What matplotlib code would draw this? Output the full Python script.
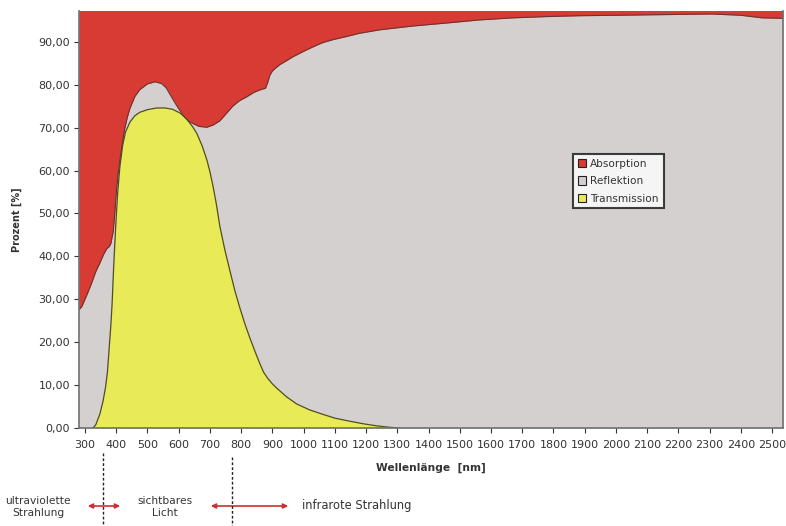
import matplotlib
matplotlib.use("Agg")
import matplotlib.pyplot as plt
from matplotlib.patches import Patch
from matplotlib.lines import Line2D
from matplotlib.ticker import FuncFormatter

# obere Grenze von Transmission + Reflektion (darüber: Absorption) [%]
wl_oben = [280, 290, 306, 320, 335, 348, 360, 370, 378, 383, 387, 391, 395, 400,
           405, 412, 421, 428, 436, 444, 460, 476, 500, 524, 545, 560, 572, 595,
           613, 630, 645, 665, 690, 710, 732, 755, 773, 795, 818, 840, 860, 878,
           885, 892, 900, 912, 924, 945, 965, 1000, 1029, 1060, 1093, 1140, 1179,
           1243, 1350, 1458, 1560, 1669, 1780, 1883, 2000, 2097, 2200, 2308, 2400,
           2468, 2535]
trans_refl = [27.5, 28.3, 31.0, 33.5, 36.5, 38.5, 40.5, 41.8, 42.3, 43.0, 44.5,
              46.0, 49.5, 54.5, 58.5, 62.5, 67.0, 70.0, 72.5, 74.5, 77.3, 78.9,
              80.2, 80.7, 80.3, 79.3, 77.8, 75.0, 73.0, 71.6, 71.0, 70.3, 70.1,
              70.6, 71.6, 73.5, 75.0, 76.3, 77.2, 78.2, 78.8, 79.2, 80.5, 82.2,
              83.2, 84.0, 84.7, 85.6, 86.5, 87.8, 88.8, 89.8, 90.5, 91.3, 92.0,
              92.8, 93.7, 94.4, 95.1, 95.6, 95.9, 96.1, 96.2, 96.3, 96.4, 96.5,
              96.2, 95.6, 95.5]

# Transmission [%]
wl_trans = [326, 335, 348, 358, 366, 372, 378, 383, 387, 391, 395, 400, 405, 412,
            421, 430, 444, 460, 476, 500, 530, 556, 580, 605, 626, 645, 658, 675,
            690, 700, 710, 720, 732, 748, 764, 780, 796, 812, 828, 848, 860, 872,
            885, 900, 914, 945, 978, 1020, 1061, 1100, 1147, 1190, 1234, 1270, 1307]
transmission = [0.0, 0.8, 3.3, 6.3, 9.5, 13.0, 19.0, 24.0, 29.0, 36.0, 42.0,
                49.0, 55.0, 61.0, 66.0, 69.0, 71.3, 72.8, 73.6, 74.2, 74.6, 74.6,
                74.3, 73.4, 72.0, 70.2, 68.7, 65.8, 62.6, 59.8, 56.4, 52.5, 47.0,
                41.5, 36.7, 32.0, 28.0, 24.3, 21.0, 17.2, 15.0, 13.0, 11.6, 10.3,
                9.3, 7.3, 5.6, 4.2, 3.2, 2.3, 1.6, 1.0, 0.5, 0.2, 0.0]

x_ticks = list(range(300, 2501, 100))
y_ticks = list(range(0, 91, 10))
labels = ["Absorption", "Reflektion", "Transmission"]

rot = "#d73b33"
grau = "#d4d0d0"
gelb = "#e8ea58"

W, H = 786, 526


def fx(px):
    return px / W


def fy(py):
    return 1 - py / H


fig = plt.figure(figsize=(W / 100, H / 100), dpi=100)
ax = fig.add_axes([fx(79), fy(428), fx(783) - fx(79), fy(11) - fy(428)])

# Flächen
ax.fill_between(wl_oben, 0, trans_refl, color=grau, lw=0)
ax.fill_between(wl_oben, trans_refl, 100, color=rot, lw=0)
ax.fill_between(wl_trans, 0, transmission, color=gelb, lw=0)
ax.plot(wl_oben, trans_refl, color="#6a3530", lw=0.8)
ax.plot(wl_trans, transmission, color="#4f4f1c", lw=0.9)

ax.set_xlim(281, 2535)
ax.set_ylim(0, 97.2)
ax.set_xticks(x_ticks)
ax.set_yticks(y_ticks)
ax.yaxis.set_major_formatter(FuncFormatter(lambda v, p: f"{v:.2f}".replace(".", ",")))
ax.tick_params(axis="both", labelsize=8, colors="#333333", length=3.5, width=0.8)
ax.tick_params(axis="x", pad=5)
ax.tick_params(axis="y", pad=3)
for s in ax.spines.values():
    s.set_color("#707070")
    s.set_linewidth(1.2)
ax.spines["top"].set_visible(False)

ax.set_xlabel("Wellenlänge  [nm]", fontsize=7.7, fontweight="bold", color="#333333")
ax.xaxis.set_label_coords(0.5, -(468 - 428) / 417)
ax.xaxis.label.set_va("center")
ax.set_ylabel("Prozent [%]", fontsize=7, fontweight="bold", color="#333333")
ax.yaxis.set_label_coords(-(79 - 17) / 704, 0.5)
ax.yaxis.label.set_va("center")

handles = [Patch(facecolor=rot, edgecolor="#222222", lw=0.8),
           Patch(facecolor=grau, edgecolor="#222222", lw=0.8),
           Patch(facecolor=gelb, edgecolor="#222222", lw=0.8)]
leg = fig.legend(handles, labels, loc="upper left", bbox_to_anchor=(fx(573), fy(154)),
                 fontsize=7.6, frameon=True, fancybox=False, borderpad=0.45,
                 handlelength=0.8, handleheight=0.8, handletextpad=0.4,
                 labelspacing=0.7, borderaxespad=0)
leg.get_frame().set_edgecolor("#111111")
leg.get_frame().set_linewidth(1.5)
for t in leg.get_texts():
    t.set_color("#333333")

# Bereiche unter der Achse
for px, top in [(103, 453), (232, 457)]:
    fig.add_artist(Line2D([fx(px), fx(px)], [fy(top), fy(526)], transform=fig.transFigure,
                          color="#222222", lw=1, ls=(0, (2, 1.5))))
for x0, x1 in [(85, 123), (208, 291)]:
    fig.add_artist(matplotlib.patches.FancyArrowPatch(
        (fx(x0), fy(506)), (fx(x1), fy(506)), transform=fig.transFigure,
        arrowstyle="<|-|>", mutation_scale=7, color="#c83232", lw=1.2))

fig.text(fx(38), fy(507), "ultraviolette\nStrahlung", ha="center", va="center",
         fontsize=7.7, color="#333333", linespacing=1.35)
fig.text(fx(165), fy(507), "sichtbares\nLicht", ha="center", va="center",
         fontsize=7.7, color="#333333", linespacing=1.35)
fig.text(fx(302), fy(506), "infrarote Strahlung", ha="left", va="center",
         fontsize=8.3, color="#333333")

fig.savefig("out.png", dpi=100)
